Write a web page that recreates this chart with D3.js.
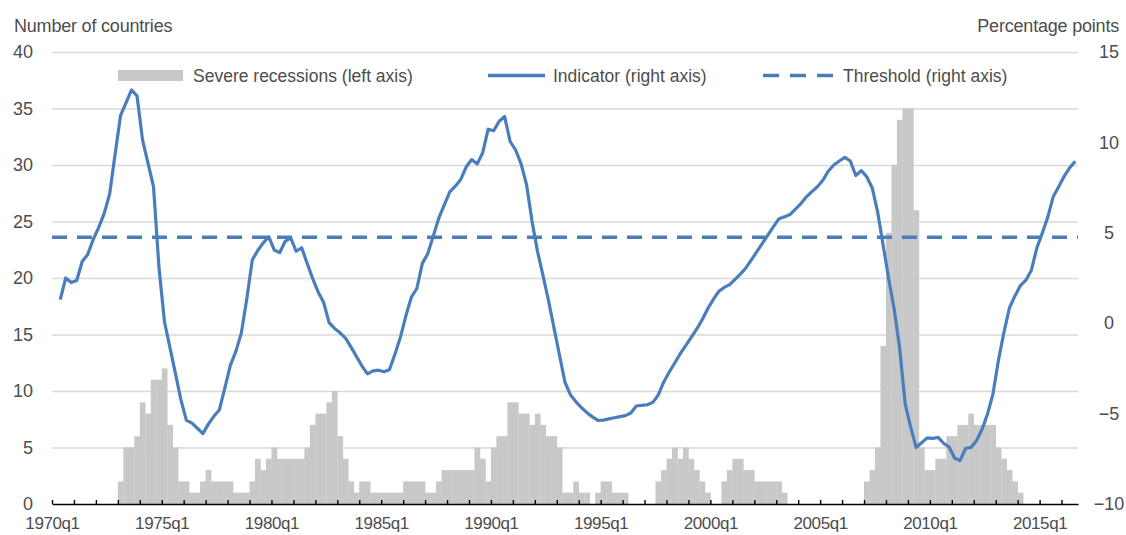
<!DOCTYPE html>
<html lang="en">
<head>
<meta charset="utf-8">
<title>severe recessions</title>
<script src="https://cdn.jsdelivr.net/npm/d3@7"></script>
<style>
body { margin: 0; background: #fff; }
text { font-family: "Liberation Sans", Arial, sans-serif; fill: #4d4d4d; }
</style>
</head>
<body>
<div id="chart"></div>
<script>

// quarterly data, 1970q1 .. 2016q3 (187 quarters)
var startYear = 1970
var nQuarters = 187

// severe recessions, number of countries (left axis)
var recessions = [
0,0,0,0, 0,0,0,0, 0,0,0,0,
2,5,5,6, 9,8,11,11, 12,7,5,2, 2,1,1,2, 3,2,2,2, 2,1,1,1,
2,4,3,4, 5,4,4,4, 4,4,5,7, 8,8,9,10, 6,4,2,1, 2,2,1,1,
1,1,1,1, 2,2,2,2, 1,1,2,3, 3,3,3,3, 3,5,4,2, 5,6,6,9,
9,8,8,7, 8,7,6,6, 5,1,1,2, 1,1,0,1, 2,2,1,1, 1,0,0,0,
0,0,2,3, 4,5,4,5, 4,3,2,1, 0,0,2,3, 4,4,3,3, 2,2,2,2,
2,1,0,0, 0,0,0,0, 0,0,0,0, 0,0,0,0, 2,3,5,14, 24,30,34,35,
35,26,5,3, 3,4,4,6, 6,7,7,8, 7,7,7,7, 5,4,3,2, 1,0,0,0,
0,0,0,0, 0,0,0
]

// indicator, percentage points (right axis); first quarter missing
var indicator = [
null,1.3,2.5,2.25, 2.36,3.41,3.8,4.62, 5.29,6.06,7.13,9.34,
11.5,12.2,12.9,12.57, 10.14,8.85,7.55,3.08, 0.08,-1.35,-2.79,-4.24,
-5.37,-5.53,-5.81,-6.11, -5.58,-5.15,-4.8,-3.59, -2.33,-1.57,-0.55,1.34,
3.49,4.02,4.44,4.79, 4.05,3.9,4.53,4.72, 3.98,4.17,3.32,2.48,
1.73,1.16,0.03,-0.29, -0.53,-0.83,-1.32,-1.85, -2.37,-2.8,-2.64,-2.6,
-2.69,-2.57,-1.72,-0.78, 0.41,1.44,1.92,3.31, 3.85,4.83,5.81,6.55,
7.26,7.58,7.95,8.65, 9.05,8.81,9.43,10.73, 10.64,11.17,11.43,10.05,
9.58,8.81,7.65,5.62, 3.96,2.62,1.24,-0.27, -1.77,-3.27,-3.97,-4.35,
-4.67,-4.95,-5.18,-5.37, -5.36,-5.29,-5.23,-5.17, -5.11,-4.97,-4.58,-4.54,
-4.51,-4.38,-3.97,-3.25, -2.7,-2.2,-1.69,-1.24, -0.78,-0.33,0.19,0.79,
1.3,1.75,1.98,2.13, 2.43,2.73,3.07,3.52, 3.97,4.43,4.88,5.34,
5.78,5.88,6.01,6.31, 6.62,6.99,7.28,7.55, 7.91,8.42,8.75,8.97,
9.17,8.97,8.17,8.44, 8.1,7.48,6.12,4.29, 2.45,0.77,-1.4,-4.46,
-5.75,-6.87,-6.61,-6.34, -6.37,-6.32,-6.64,-6.85, -7.46,-7.6,-6.93,-6.87,
-6.5,-5.88,-5.03,-3.92, -2.05,-0.51,0.84,1.51, 2.08,2.38,2.93,4.16,
4.99,5.88,7.01,7.56, 8.14,8.6,8.96
]

var threshold = 4.75

var leftTicks = [0,5,10,15,20,25,30,35,40]
var rightTicks = [-10,-5,0,5,10,15]
var xLabels = ["1970q1","1975q1","1980q1","1985q1","1990q1","1995q1","2000q1","2005q1","2010q1","2015q1"]

var legendItems = ["Severe recessions (left axis)","Indicator (right axis)","Threshold (right axis)"]

var blue = "#4a7ebb"
var grey = "#c8c8c8"

var svg = d3.select("#chart")
    .append("svg")
    .attr("width",1126)
    .attr("height",535)

var x = d3.scaleLinear()
    .domain([0,nQuarters])
    .range([52,1078])

var yLeft = d3.scaleLinear()
    .domain([0,40])
    .range([504,52])

var yRight = d3.scaleLinear()
    .domain([-10,15])
    .range([504,52])

// gridlines
svg.append("g")
    .attr("transform","translate(52,0)")
    .call(d3.axisLeft(yLeft).tickValues(leftTicks.slice(1)).tickSize(-1026).tickFormat(""))
    .call(function(g){
        g.select(".domain").remove()
        g.selectAll("line").attr("stroke","#d9d9d9").attr("stroke-width",1.6)
    })

// bars
svg.selectAll(".bar")
    .data(recessions)
    .enter()
    .append("rect")
    .attr("class","bar")
    .attr("x",function(d,i){ return x(i) })
    .attr("width",function(d,i){ return x(i+1)-x(i)+0.3 })
    .attr("y",function(d){ return yLeft(d) })
    .attr("height",function(d){ return yLeft(0)-yLeft(d) })
    .attr("fill",grey)

// threshold
svg.append("line")
    .attr("x1",x(0)).attr("x2",x(nQuarters))
    .attr("y1",yRight(threshold)).attr("y2",yRight(threshold))
    .attr("stroke",blue)
    .attr("stroke-width",3.5)
    .attr("stroke-dasharray","15,10")

// indicator line
var line = d3.line()
    .defined(function(d){ return d !== null })
    .x(function(d,i){ return x(i+0.5) })
    .y(function(d){ return yRight(d) })

svg.append("path")
    .datum(indicator)
    .attr("d",line)
    .attr("fill","none")
    .attr("stroke",blue)
    .attr("stroke-width",3.2)
    .attr("stroke-linejoin","round")

// x axis: baseline + yearly ticks
svg.append("g")
    .attr("transform","translate(0,504)")
    .call(d3.axisBottom(x).tickValues(d3.range(0,nQuarters,4)).tickSize(-4).tickSizeOuter(0).tickFormat(""))
    .call(function(g){
        g.select(".domain").attr("stroke","#000").attr("stroke-width",1.6)
        g.selectAll("line").attr("stroke","#000").attr("stroke-width",1.4)
    })

// x labels every 5 years
svg.append("g")
    .attr("transform","translate(0,504)")
    .call(d3.axisBottom(x).tickValues(d3.range(0,nQuarters,20)).tickSize(0).tickPadding(13)
        .tickFormat(function(d,i){ return xLabels[i] }))
    .call(function(g){
        g.select(".domain").remove()
        g.selectAll("text").style("font-size","17px").style("letter-spacing","-0.4px").attr("fill","#4d4d4d")
    })

// left axis labels
svg.append("g")
    .attr("transform","translate(33,0)")
    .call(d3.axisLeft(yLeft).tickValues(leftTicks).tickSize(0).tickPadding(0))
    .call(function(g){
        g.select(".domain").remove()
        g.selectAll("text").style("font-size","18px").attr("fill","#4d4d4d")
    })

// right axis labels
svg.append("g")
    .attr("transform","translate(1109,0)")
    .call(d3.axisRight(yRight).tickValues(rightTicks).tickSize(0).tickPadding(0))
    .call(function(g){
        g.select(".domain").remove()
        g.selectAll("text").style("font-size","18px").attr("text-anchor","middle").attr("fill","#4d4d4d")
    })

// axis titles
svg.append("text")
    .attr("x",14).attr("y",32)
    .style("font-size","18px").style("letter-spacing","-0.2px")
    .text("Number of countries")

svg.append("text")
    .attr("x",1119).attr("y",32)
    .attr("text-anchor","end")
    .style("font-size","18px").style("letter-spacing","-0.2px")
    .text("Percentage points")

// legend
var legend = svg.append("g").style("font-size","17.5px")

legend.append("rect")
    .attr("x",118).attr("y",70).attr("width",65).attr("height",11)
    .attr("fill",grey)
legend.append("text").attr("x",193).attr("y",82).attr("fill","#1a1a1a").text(legendItems[0])

legend.append("line")
    .attr("x1",488).attr("x2",545).attr("y1",75.5).attr("y2",75.5)
    .attr("stroke",blue).attr("stroke-width",3.5)
legend.append("text").attr("x",553).attr("y",82).attr("fill","#1a1a1a").text(legendItems[1])

legend.append("line")
    .attr("x1",763).attr("x2",836).attr("y1",75.5).attr("y2",75.5)
    .attr("stroke",blue).attr("stroke-width",3.5)
    .attr("stroke-dasharray","16,11")
legend.append("text").attr("x",843).attr("y",82).attr("fill","#1a1a1a").text(legendItems[2])

</script>
</body>
</html>
